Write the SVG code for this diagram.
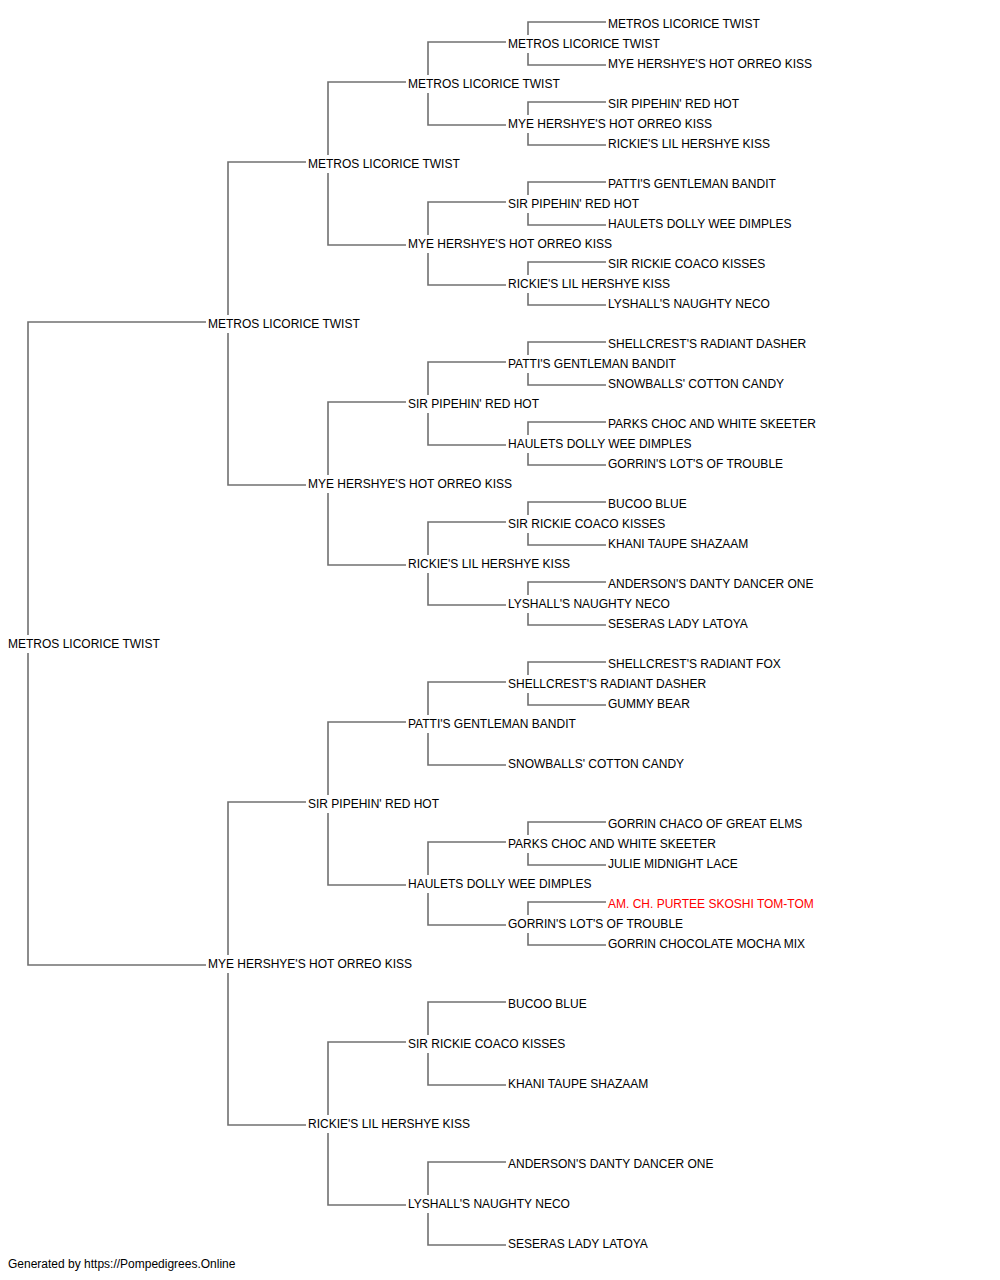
<svg xmlns="http://www.w3.org/2000/svg" width="1000" height="1280" viewBox="0 0 1000 1280">
<style>
text{font-family:"Liberation Sans",Arial,sans-serif;font-size:12px;fill:#000}
.red{fill:#ff0000}
#links path{fill:none;stroke:#707070;stroke-width:1.6}
</style>
<rect width="1000" height="1280" fill="#fff"/>
<g id="links">
<path d="M28,635V322H206M28,653V965H206"/>
<path d="M228,315V162H306M228,333V485H306"/>
<path d="M228,955V802H306M228,973V1125H306"/>
<path d="M328,155V82H406M328,173V245H406"/>
<path d="M328,475V402H406M328,493V565H406"/>
<path d="M328,795V722H406M328,813V885H406"/>
<path d="M328,1115V1042H406M328,1133V1205H406"/>
<path d="M428,75V42H506M428,93V125H506"/>
<path d="M428,235V202H506M428,253V285H506"/>
<path d="M428,395V362H506M428,413V445H506"/>
<path d="M428,555V522H506M428,573V605H506"/>
<path d="M428,715V682H506M428,733V765H506"/>
<path d="M428,875V842H506M428,893V925H506"/>
<path d="M428,1035V1002H506M428,1053V1085H506"/>
<path d="M428,1195V1162H506M428,1213V1245H506"/>
<path d="M528,35V22H606M528,53V65H606"/>
<path d="M528,115V102H606M528,133V145H606"/>
<path d="M528,195V182H606M528,213V225H606"/>
<path d="M528,275V262H606M528,293V305H606"/>
<path d="M528,355V342H606M528,373V385H606"/>
<path d="M528,435V422H606M528,453V465H606"/>
<path d="M528,515V502H606M528,533V545H606"/>
<path d="M528,595V582H606M528,613V625H606"/>
<path d="M528,675V662H606M528,693V705H606"/>
<path d="M528,835V822H606M528,853V865H606"/>
<path d="M528,915V902H606M528,933V945H606"/>
</g>
<g id="n0"><text x="8" y="648.3">METROS LICORICE TWIST</text></g>
<g id="n1s"><text x="208" y="328.3">METROS LICORICE TWIST</text></g>
<g id="n1d"><text x="208" y="968.3">MYE HERSHYE'S HOT ORREO KISS</text></g>
<g id="n2a"><text x="308" y="168.3">METROS LICORICE TWIST</text></g>
<g id="n2b"><text x="308" y="488.3">MYE HERSHYE'S HOT ORREO KISS</text></g>
<g id="n2c"><text x="308" y="808.3">SIR PIPEHIN' RED HOT</text></g>
<g id="n2d"><text x="308" y="1128.3">RICKIE'S LIL HERSHYE KISS</text></g>
<g id="n3a"><text x="408" y="88.3">METROS LICORICE TWIST</text></g>
<g id="n3b"><text x="408" y="248.3">MYE HERSHYE'S HOT ORREO KISS</text></g>
<g id="n3c"><text x="408" y="408.3">SIR PIPEHIN' RED HOT</text></g>
<g id="n3d"><text x="408" y="568.3">RICKIE'S LIL HERSHYE KISS</text></g>
<g id="n3e"><text x="408" y="728.3">PATTI'S GENTLEMAN BANDIT</text></g>
<g id="n3f"><text x="408" y="888.3">HAULETS DOLLY WEE DIMPLES</text></g>
<g id="n3g"><text x="408" y="1048.3">SIR RICKIE COACO KISSES</text></g>
<g id="n3h"><text x="408" y="1208.3">LYSHALL'S NAUGHTY NECO</text></g>
<g id="n4a"><text x="508" y="48.3">METROS LICORICE TWIST</text></g>
<g id="n4b"><text x="508" y="128.3">MYE HERSHYE'S HOT ORREO KISS</text></g>
<g id="n4c"><text x="508" y="208.3">SIR PIPEHIN' RED HOT</text></g>
<g id="n4d"><text x="508" y="288.3">RICKIE'S LIL HERSHYE KISS</text></g>
<g id="n4e"><text x="508" y="368.3">PATTI'S GENTLEMAN BANDIT</text></g>
<g id="n4f"><text x="508" y="448.3">HAULETS DOLLY WEE DIMPLES</text></g>
<g id="n4g"><text x="508" y="528.3">SIR RICKIE COACO KISSES</text></g>
<g id="n4h"><text x="508" y="608.3">LYSHALL'S NAUGHTY NECO</text></g>
<g id="n4i"><text x="508" y="688.3">SHELLCREST'S RADIANT DASHER</text></g>
<g id="n4j"><text x="508" y="768.3">SNOWBALLS' COTTON CANDY</text></g>
<g id="n4k"><text x="508" y="848.3">PARKS CHOC AND WHITE SKEETER</text></g>
<g id="n4l"><text x="508" y="928.3">GORRIN'S LOT'S OF TROUBLE</text></g>
<g id="n4m"><text x="508" y="1008.3">BUCOO BLUE</text></g>
<g id="n4n"><text x="508" y="1088.3">KHANI TAUPE SHAZAAM</text></g>
<g id="n4o"><text x="508" y="1168.3">ANDERSON'S DANTY DANCER ONE</text></g>
<g id="n4p"><text x="508" y="1248.3">SESERAS LADY LATOYA</text></g>
<g id="n5a"><text x="608" y="28.3">METROS LICORICE TWIST</text></g>
<g id="n5b"><text x="608" y="68.3">MYE HERSHYE'S HOT ORREO KISS</text></g>
<g id="n5c"><text x="608" y="108.3">SIR PIPEHIN' RED HOT</text></g>
<g id="n5d"><text x="608" y="148.3">RICKIE'S LIL HERSHYE KISS</text></g>
<g id="n5e"><text x="608" y="188.3">PATTI'S GENTLEMAN BANDIT</text></g>
<g id="n5f"><text x="608" y="228.3">HAULETS DOLLY WEE DIMPLES</text></g>
<g id="n5g"><text x="608" y="268.3">SIR RICKIE COACO KISSES</text></g>
<g id="n5h"><text x="608" y="308.3">LYSHALL'S NAUGHTY NECO</text></g>
<g id="n5i"><text x="608" y="348.3">SHELLCREST'S RADIANT DASHER</text></g>
<g id="n5j"><text x="608" y="388.3">SNOWBALLS' COTTON CANDY</text></g>
<g id="n5k"><text x="608" y="428.3">PARKS CHOC AND WHITE SKEETER</text></g>
<g id="n5l"><text x="608" y="468.3">GORRIN'S LOT'S OF TROUBLE</text></g>
<g id="n5m"><text x="608" y="508.3">BUCOO BLUE</text></g>
<g id="n5n"><text x="608" y="548.3">KHANI TAUPE SHAZAAM</text></g>
<g id="n5o"><text x="608" y="588.3">ANDERSON'S DANTY DANCER ONE</text></g>
<g id="n5p"><text x="608" y="628.3">SESERAS LADY LATOYA</text></g>
<g id="n5q"><text x="608" y="668.3">SHELLCREST'S RADIANT FOX</text></g>
<g id="n5r"><text x="608" y="708.3">GUMMY BEAR</text></g>
<g id="n5s"><text x="608" y="828.3">GORRIN CHACO OF GREAT ELMS</text></g>
<g id="n5t"><text x="608" y="868.3">JULIE MIDNIGHT LACE</text></g>
<g id="n5u"><text class="red" x="608" y="908.3">AM. CH. PURTEE SKOSHI TOM-TOM</text></g>
<g id="n5v"><text x="608" y="948.3">GORRIN CHOCOLATE MOCHA MIX</text></g>
<text x="8" y="1268.3">Generated by https://Pompedigrees.Online</text>
</svg>
